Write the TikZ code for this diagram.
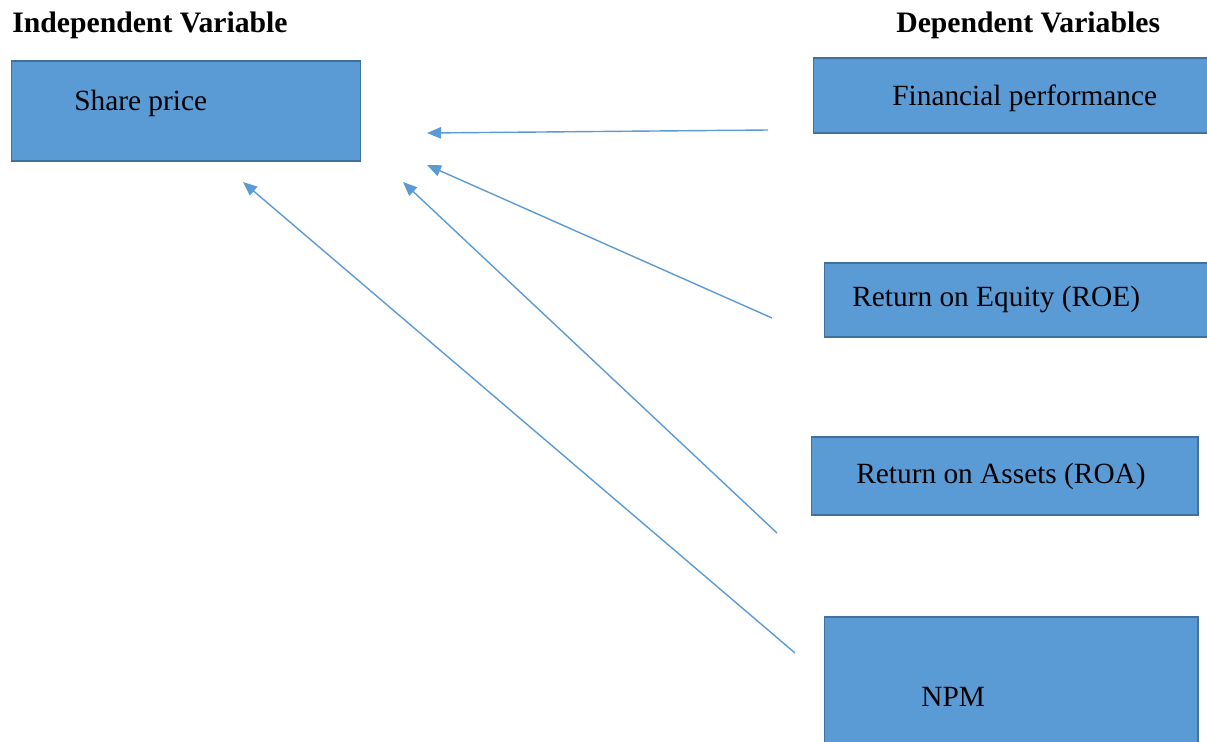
\documentclass[tikz,border=0pt]{standalone}
\usepackage{fontspec}
\setmainfont{Liberation Serif}
\usepackage{xcolor}
\usepackage{tikz}
\usetikzlibrary{arrows.meta,positioning}
\definecolor{boxblue}{HTML}{5B9BD5}
\definecolor{boxline}{HTML}{41719C}
\definecolor{arrowblue}{HTML}{5B9BD5}

\tikzset{
    varbox/.style={draw=boxline, line width=0.6pt, fill=boxblue, rectangle, inner sep=0pt},
    varlabel/.style={anchor=west, inner sep=0pt, font=\fontsize{16.7}{20}\selectfont},
    heading/.style={anchor=west, inner sep=0pt, font=\fontsize{16.9}{20}\selectfont\bfseries},
    link/.style={draw=arrowblue, line width=0.8pt, {Triangle[length=8pt,width=6.5pt]}-}
}

\begin{document}
\begin{tikzpicture}[x=0.02cm, y=-0.02cm]
    \useasboundingbox (0,0) rectangle (1207,741);
    \clip (0,0) rectangle (1207,741);

    % Headings
    \node[heading] (indep) at (12,25) {Independent Variable};
    \node[heading] (dep) at (896,25) {Dependent Variables};

    % Independent variable
    \node[varbox, minimum width=7cm, minimum height=2cm] (share) at (186,111) {};
    \node[varlabel] (sharetxt) at (74,103) {Share price};

    % Dependent variables
    \node[varbox, minimum width=8.08cm, minimum height=1.5cm] (fin) at (1015,95.5) {};
    \node[varlabel] (fintxt) at (892,98) {Financial performance};
    \node[varbox, minimum width=7.86cm, minimum height=1.48cm] (roe) at (1020.5,300) {};
    \node[varlabel] (roetxt) at (852,299) {Return on Equity (ROE)};
    \node[varbox, minimum width=7.74cm, minimum height=1.56cm] (roa) at (1004.5,476) {};
    \node[varlabel] (roatxt) at (856,476) {Return on Assets (ROA)};
    \node[varbox, minimum width=7.48cm, minimum height=2.8cm] (npm) at (1011,687) {};
    \node[varlabel] (npmtxt) at (921,697) {NPM};

    % Arrow ends
    \coordinate (finend) at (768,130);
    \coordinate (finhead) at (427,133);
    \coordinate (roeend) at (772,318);
    \coordinate (roehead) at (427,165);
    \coordinate (roaend) at (777,533);
    \coordinate (roahead) at (403,182);
    \coordinate (npmend) at (795,653);
    \coordinate (npmhead) at (243,182);

    \draw[link] (finhead) -- (finend);
    \draw[link] (roehead) -- (roeend);
    \draw[link] (roahead) -- (roaend);
    \draw[link] (npmhead) -- (npmend);
\end{tikzpicture}
\end{document}
